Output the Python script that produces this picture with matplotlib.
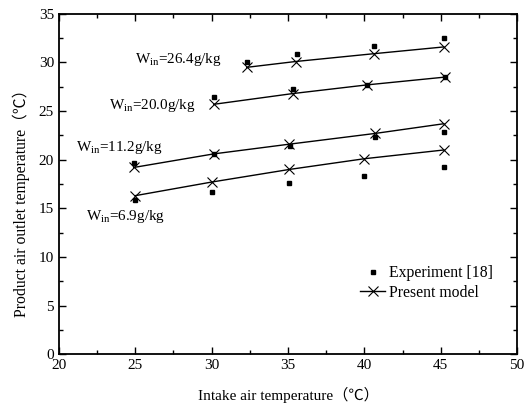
import matplotlib
matplotlib.use("Agg")
import matplotlib.pyplot as plt
from matplotlib.ticker import MultipleLocator

plt.rcParams['font.family'] = ['Liberation Serif', 'Noto Sans CJK SC']
plt.rcParams['mathtext.fontset'] = 'custom'
plt.rcParams['mathtext.rm'] = 'Liberation Serif'

# Present model (lines with x markers)
model_x_264 = [32.3, 35.5, 40.6, 45.2]
model_y_264 = [29.5, 30.1, 30.9, 31.6]
model_x_200 = [30.15, 35.3, 40.2, 45.3]
model_y_200 = [25.7, 26.8, 27.7, 28.5]
model_x_112 = [24.9, 30.15, 35.1, 40.7, 45.2]
model_y_112 = [19.2, 20.6, 21.6, 22.7, 23.7]
model_x_69 = [25.0, 30.0, 35.1, 40.0, 45.2]
model_y_69 = [16.3, 17.7, 19.0, 20.1, 21.0]

# Experiment [18] (squares)
exp_x_264 = [32.3, 35.6, 40.6, 45.2]
exp_y_264 = [30.1, 30.9, 31.7, 32.5]
exp_x_200 = [30.15, 35.3, 40.2, 45.3]
exp_y_200 = [26.5, 27.3, 27.7, 28.5]
exp_x_112 = [24.9, 30.15, 35.15, 40.7, 45.2]
exp_y_112 = [19.7, 20.6, 21.4, 22.3, 22.9]
exp_x_69 = [25.0, 30.0, 35.1, 40.0, 45.2]
exp_y_69 = [15.9, 16.7, 17.6, 18.3, 19.2]

series_labels = ["26.4", "20.0", "11.2", "6.9"]
label_pos_x = [25.0, 23.3, 21.1, 21.8]
label_pos_y = [30.3, 25.6, 21.3, 14.2]

W, H = 525, 408
fig = plt.figure(figsize=(W / 100, H / 100), dpi=100)
ax = fig.add_axes([0.112, 0.132, 0.873, 0.834])

models = [(model_x_264, model_y_264), (model_x_200, model_y_200),
          (model_x_112, model_y_112), (model_x_69, model_y_69)]
exps = [(exp_x_264, exp_y_264), (exp_x_200, exp_y_200),
        (exp_x_112, exp_y_112), (exp_x_69, exp_y_69)]

for i, ((mx, my), (ex, ey)) in enumerate(zip(models, exps)):
    ax.plot(ex, ey, linestyle='none', marker='s', markersize=3.5, color='black',
            label='Experiment [18]' if i == 0 else None, zorder=3)
    ax.plot(mx, my, linestyle='-', linewidth=1.0, marker='x', markersize=6.5,
            markeredgewidth=0.8, color='black',
            label='Present model' if i == 0 else None, zorder=2)

for lab, lx, ly in zip(series_labels, label_pos_x, label_pos_y):
    ax.text(lx, ly, r'W$_{\mathregular{in}}$=' + lab + 'g/kg', fontsize=10.9,
            va='center', ha='left')

ax.set_xlim(20, 50)
ax.set_ylim(0, 35)
ax.xaxis.set_major_locator(MultipleLocator(5))
ax.xaxis.set_minor_locator(MultipleLocator(2.5))
ax.yaxis.set_major_locator(MultipleLocator(5))
ax.yaxis.set_minor_locator(MultipleLocator(2.5))
ax.tick_params(which='both', direction='in', top=True, right=True, labelsize=11)
ax.tick_params(which='major', length=5, width=1)
ax.tick_params(which='minor', length=3, width=1)
for s in ax.spines.values():
    s.set_linewidth(1.3)

ax.set_xlabel('Intake air temperature（℃）', fontsize=11, labelpad=11)
ax.set_ylabel('Product air outlet temperature（℃）', fontsize=11.3)
ax.yaxis.set_label_coords(-0.062, 0.456)

leg = ax.legend(loc='upper left', bbox_to_anchor=(0.7, 0.3), frameon=False,
                fontsize=11.3, handlelength=1.6, handletextpad=0.25,
                labelspacing=0.25)

# place the legend so its first entry text sits where it is in the reference
fig.canvas.draw()
r = fig.canvas.get_renderer()
b = leg.get_texts()[0].get_window_extent(r)
target_left, target_cy = 389.0, H - 273.0
dx = target_left - b.x0
dy = target_cy - (b.y0 + b.y1) / 2
axb = ax.get_window_extent(r)
leg.set_bbox_to_anchor((0.7 + dx / axb.width, 0.3 + dy / axb.height),
                       transform=ax.transAxes)

fig.savefig('out.png', dpi=100)
